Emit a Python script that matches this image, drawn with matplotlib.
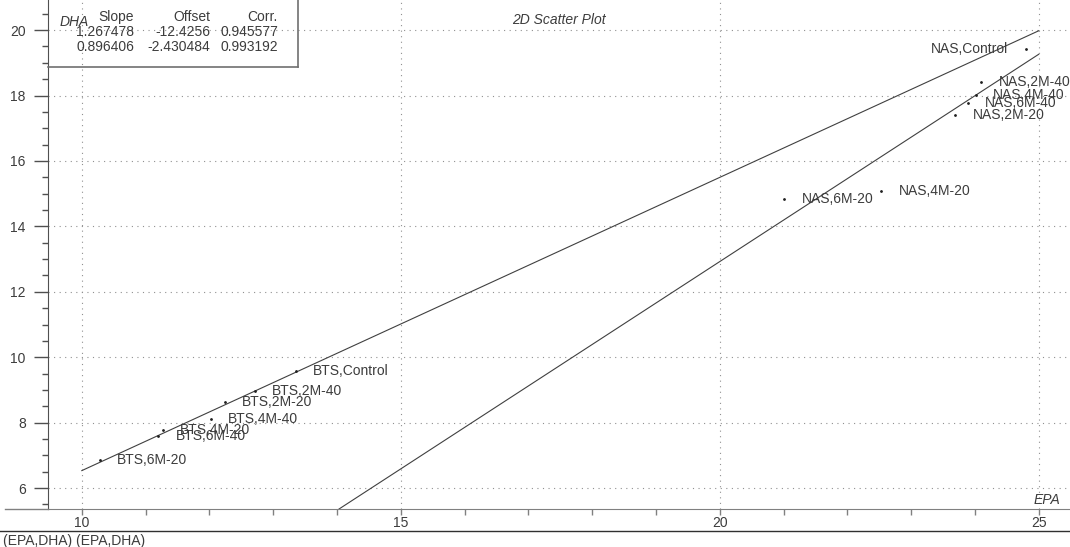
import matplotlib
matplotlib.use('Agg')
import matplotlib.pyplot as plt
from matplotlib.lines import Line2D

plt.rcParams['font.family'] = ['Liberation Sans', 'DejaVu Sans']

# данные
labels = ['BTS,6M-20', 'BTS,6M-40', 'BTS,4M-20', 'BTS,4M-40', 'BTS,2M-20',
          'BTS,2M-40', 'BTS,Control',
          'NAS,6M-20', 'NAS,4M-20', 'NAS,2M-20', 'NAS,6M-40', 'NAS,4M-40',
          'NAS,2M-40', 'NAS,Control']
epa = [10.28, 11.20, 11.27, 12.02, 12.24, 12.71, 13.35,
       21.01, 22.53, 23.69, 23.89, 24.01, 24.10, 24.80]
dha = [6.86, 7.60, 7.77, 8.11, 8.62, 8.97, 9.59,
       14.85, 15.09, 17.40, 17.76, 18.01, 18.40, 19.42]

slopes = [1.267478, 0.896406]
offsets = [-12.4256, -2.430484]
slope_txt = ['1.267478', '0.896406']
offset_txt = ['-12.4256', '-2.430484']
corr_txt = ['0.945577', '0.993192']

xticks = [10, 15, 20, 25]
yticks = [6, 8, 10, 12, 14, 16, 18, 20]

W, H = 1070, 547
fig = plt.figure(figsize=(W / 100, H / 100), dpi=100)
ax = fig.add_axes([48 / W, (H - 509) / H, 1 - 48 / W, 509 / H])
ax.set_xlim(9.47, 25.49)
ax.set_ylim(5.36, 20.92)

txt_col = '#3c3c3c'
line_col = '#404040'

for s in ['top', 'right']:
    ax.spines[s].set_visible(False)
ax.spines['left'].set_color('#505050')
ax.spines['bottom'].set_color('#808080')

ax.set_xticks(xticks)
ax.set_xticks(range(10, 26), minor=True)
ax.set_yticks(yticks)
ax.set_yticks([v / 2 for v in range(11, 42)], minor=True)
ax.tick_params(axis='y', which='major', length=10, width=1, color='#505050',
               labelsize=10, labelcolor=txt_col, pad=6)
ax.tick_params(axis='y', which='minor', length=4.5, width=1, color='#505050')
ax.tick_params(axis='x', which='both', length=4, width=1, color='#808080',
               labelsize=10, labelcolor=txt_col, pad=1)

ax.grid(True, which='major', color='#909090', linestyle=(0, (1, 4)), linewidth=0.8)

# линии регрессии
x1_start = (5.36 - offsets[0]) / slopes[0]
ax.plot([x1_start, 25], [slopes[0] * x1_start + offsets[0], slopes[0] * 25 + offsets[0]],
        color=line_col, lw=0.8)
ax.plot([10, 25], [slopes[1] * 10 + offsets[1], slopes[1] * 25 + offsets[1]],
        color=line_col, lw=0.8)

# точки и подписи
ax.plot(epa, dha, linestyle='none', marker='.', markersize=2, color='#202020')
for lab, x, y in zip(labels, epa, dha):
    if lab == 'NAS,Control':
        ax.annotate(lab, (x, y), xytext=(-13, 0), textcoords='offset points',
                    ha='right', va='center', fontsize=10, color=txt_col)
    else:
        ax.annotate(lab, (x, y), xytext=(12.5, 0), textcoords='offset points',
                    ha='left', va='center', fontsize=10, color=txt_col)

# заголовок и подписи осей
fig.text((48 + W) / 2 / W, 1 - 20 / H, '2D Scatter Plot', ha='center', va='center',
         fontsize=10, style='italic', color=txt_col)
fig.text(1047 / W, 1 - 500 / H, 'EPA', ha='center', va='center',
         fontsize=10, style='italic', color=txt_col)

# табличка с коэффициентами
box_col = '#707070'
fig.add_artist(Line2D([48 / W, 298 / W], [1 - 67 / H, 1 - 67 / H], color=box_col, lw=1.2))
fig.add_artist(Line2D([298 / W, 298 / W], [1 - 67 / H, 1], color=box_col, lw=1.2))
fig.text(60 / W, 1 - 22 / H, 'DHA', ha='left', va='center', fontsize=10,
         style='italic', color=txt_col)
col_x = [134, 210, 278]
for cx, head in zip(col_x, ['Slope', 'Offset', 'Corr.']):
    fig.text(cx / W, 1 - 17 / H, head, ha='right', va='center', fontsize=10, color=txt_col)
for i, ry in enumerate([32, 47]):
    for cx, val in zip(col_x, [slope_txt[i], offset_txt[i], corr_txt[i]]):
        fig.text(cx / W, 1 - ry / H, val, ha='right', va='center', fontsize=10, color=txt_col)

# ось x продлевается влево и линия внизу
fig.add_artist(Line2D([5 / W, 48 / W], [1 - 509 / H, 1 - 509 / H], color='#808080', lw=1))
fig.add_artist(Line2D([0, 1], [1 - 531 / H, 1 - 531 / H], color='#303030', lw=1))
fig.text(3 / W, 1 - 541 / H, '(EPA,DHA) (EPA,DHA)', ha='left', va='center',
         fontsize=10, color=txt_col)

fig.savefig('out.png', dpi=100)
